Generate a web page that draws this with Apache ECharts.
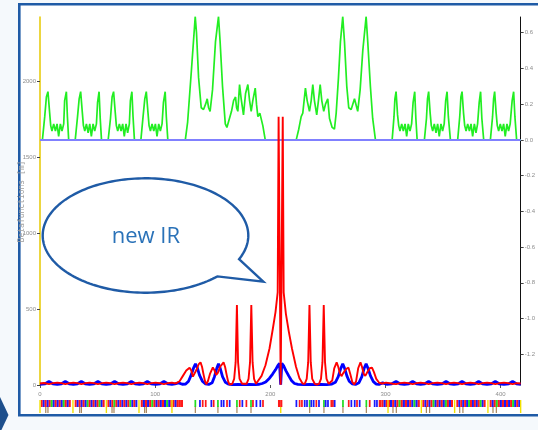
<!DOCTYPE html>
<html>
<head>
<meta charset="utf-8">
<script src="https://cdn.jsdelivr.net/npm/echarts@6/dist/echarts.min.js"></script>
<style>
  html, body { margin: 0; padding: 0; background: #f5f9fc; }
  #chart { width: 538px; height: 430px; }
</style>
</head>
<body>
<div id="chart"></div>
<script>
// Axis ranges and tick labels
const S_MAX = 417.4;
const BETA_MAX = 2421;
const DISP_MIN = -1.372;
const DISP_MAX = 0.688;
const sTicks = [0, 100, 200, 300, 400];
const betaTicks = [0, 500, 1000, 1500, 2000];
const dispTicks = [-1.2, -1.0, -0.8, -0.6, -0.4, -0.2, 0.0, 0.2, 0.4, 0.6];

// Dispersion [s, D] (right axis)
const dispersion = [
  [0, 0], [2.1, 0], [4.1, 0.13], [5.55, 0.24], [6.9, 0.27], [8.4, 0.15], [9.3, 0.08], [10.4, 0.05], [11.9, 0.09], [13.4, 0.05], [14.8, 0.09], [16.2, 0.02], [17.7, 0.09], [19.1, 0.05], [20.6, 0.09], [21.4, 0.22], [22.9, 0.27], [23.8, 0.13], [24.9, 0],
  [30.6, 0], [32.6, 0.13], [34.0, 0.23], [35.3, 0.27], [36.8, 0.15], [37.7, 0.08], [38.9, 0.05], [40.3, 0.09], [41.8, 0.04], [43.2, 0.09], [44.6, 0.02], [46.1, 0.09], [47.5, 0.05], [49.0, 0.09], [50.0, 0.21], [51.3, 0.27], [52.3, 0.12], [53.4, 0],
  [59.2, 0], [61.2, 0.12], [62.6, 0.24], [63.9, 0.27], [65.4, 0.15], [66.3, 0.08], [67.5, 0.05], [68.9, 0.09], [70.4, 0.05], [71.8, 0.09], [73.2, 0.02], [74.7, 0.09], [76.1, 0.04], [77.6, 0.09], [78.5, 0.22], [79.8, 0.27], [80.8, 0.13], [82.0, 0],
  [87.6, 0], [89.5, 0.13], [91.0, 0.23], [92.3, 0.27], [93.8, 0.15], [94.7, 0.08], [95.9, 0.05], [97.3, 0.09], [98.8, 0.05], [100.2, 0.09], [101.6, 0.02], [103.1, 0.09], [104.5, 0.05], [106.0, 0.09], [107.2, 0.21], [108.7, 0.27], [109.7, 0.13], [111.0, 0],
  [126.2, 0], [128.2, 0.1], [131.6, 0.4], [134.8, 0.69], [135.9, 0.6], [137.7, 0.35], [140.0, 0.18], [142.0, 0.17], [143.8, 0.2], [145.2, 0.23], [146.4, 0.18], [147.7, 0.16], [149.8, 0.28], [152.4, 0.55], [155.0, 0.69], [156.4, 0.55], [158.5, 0.3], [160.9, 0.09], [162.3, 0.07], [163.7, 0.08], [166.3, 0.16], [168.1, 0.22], [168.9, 0.21], [169.8, 0.24], [170.7, 0.18], [171.8, 0.16], [173.3, 0.31], [174.7, 0.23], [176.7, 0.14], [178.5, 0.26], [180.5, 0.31], [182.0, 0.22], [183.4, 0.16], [184.8, 0.22], [186.9, 0.29], [188.0, 0.2], [189.2, 0.13], [190.9, 0.15], [192.1, 0.14], [193.5, 0.08], [195.6, 0],
  [222.5, 0], [224.7, 0.06], [226.8, 0.13], [228.2, 0.15], [230.5, 0.29], [232.0, 0.22], [234.0, 0.16], [235.5, 0.22], [236.9, 0.31], [238.3, 0.22], [240.3, 0.14], [241.8, 0.22], [243.3, 0.31], [244.7, 0.22], [246.4, 0.16], [247.9, 0.2], [249.9, 0.23], [251.4, 0.12], [253.7, 0.07], [255.7, 0.06], [257.2, 0.15], [259.2, 0.35], [260.9, 0.55], [262.9, 0.69], [264.4, 0.55], [266.4, 0.3], [268.1, 0.18], [270.2, 0.17], [273.1, 0.23], [275.9, 0.16], [278.0, 0.28], [280.3, 0.5], [283.2, 0.69], [284.6, 0.55], [286.9, 0.3], [288.9, 0.12], [291.3, 0],
  [305.8, 0], [307.4, 0.13], [308.2, 0.23], [309.2, 0.27], [310.5, 0.14], [311.5, 0.08], [312.6, 0.05], [314.1, 0.09], [315.5, 0.05], [317.0, 0.09], [318.4, 0.02], [319.8, 0.09], [321.3, 0.05], [322.7, 0.09], [324.0, 0.21], [325.4, 0.27], [326.4, 0.12], [327.5, 0],
  [333.8, 0], [335.6, 0.12], [336.5, 0.23], [337.5, 0.27], [338.8, 0.15], [339.8, 0.08], [341.0, 0.05], [342.4, 0.09], [343.9, 0.04], [345.3, 0.09], [346.7, 0.02], [348.2, 0.09], [349.6, 0.05], [351.0, 0.09], [352.3, 0.22], [353.5, 0.27], [354.6, 0.13], [356.4, 0],
  [362.7, 0], [364.5, 0.13], [365.5, 0.24], [366.5, 0.27], [367.8, 0.15], [368.8, 0.08], [370.0, 0.05], [371.4, 0.09], [372.9, 0.05], [374.3, 0.09], [375.7, 0.02], [377.2, 0.09], [378.6, 0.04], [380.0, 0.09], [381.4, 0.21], [382.6, 0.27], [383.7, 0.12], [385.3, 0],
  [391.1, 0], [393.0, 0.13], [393.9, 0.23], [394.8, 0.27], [396.1, 0.15], [397.1, 0.08], [398.3, 0.05], [399.7, 0.09], [401.2, 0.05], [402.6, 0.09], [404.0, 0.02], [405.5, 0.09], [406.9, 0.05], [408.3, 0.09], [410.0, 0.22], [411.3, 0.27], [412.4, 0.13], [413.9, 0], [417.4, 0]
];

// Horizontal beta function [s, beta] (left axis)
const betaX = [
  [0, 5], [4.5, 8], [7.8, 24], [11.1, 8], [15.0, 4], [18.7, 8], [22.0, 24], [25.3, 8], [29.0, 4], [32.6, 8], [35.9, 24], [39.2, 8], [43.1, 4], [47.0, 8], [50.3, 24], [53.6, 8], [57.5, 4], [61.5, 8], [64.8, 24], [68.1, 8], [72.1, 4], [76.0, 8], [79.3, 24], [82.6, 8], [86.3, 4], [89.9, 8], [93.2, 24], [96.5, 8], [100.4, 4], [104.3, 8], [107.6, 24], [110.9, 8], [114.5, 4], [117.2, 8], [120.4, 14], [123.5, 5],
  [126.5, 6], [129, 25], [131.5, 70], [133.5, 115], [135, 140], [136.5, 115], [138.5, 65], [141, 25], [143.5, 8], [146.5, 4], [149.5, 15], [151.5, 55], [153.5, 110], [155, 140], [156.5, 110], [158.5, 55], [161, 18], [163.5, 6], [167, 3], [172, 4], [177, 3], [182, 4], [187, 3],
  [190.5, 5], [193, 10], [196, 20], [199.3, 45], [202, 72], [204.5, 100], [206.5, 128], [208, 142], [209, 2], [210, 142], [211.5, 128], [213.5, 95], [216, 60], [218.5, 28], [221, 10], [224, 4],
  [229, 3], [234, 4], [239, 3], [244, 4], [249, 3], [253.5, 6], [256.5, 18], [259, 55], [261, 105], [262.9, 140], [264.5, 110], [266.5, 60], [268.5, 25], [271, 8], [274, 4], [277, 15], [279.5, 55], [281.5, 110], [283.2, 140], [284.8, 110], [287, 60], [289.5, 22], [292, 6],
  [294.3, 4], [297.6, 14], [301, 5], [305.5, 8], [309.2, 24], [312.5, 8], [316.4, 4], [320.3, 8], [323.6, 24], [326.9, 8], [330.5, 4], [334.2, 8], [337.5, 24], [340.8, 8], [345, 4], [349.3, 8], [352.6, 24], [355.9, 8], [359.5, 4], [363.2, 8], [366.5, 24], [369.8, 8], [373.7, 4], [377.6, 8], [380.9, 24], [384.2, 8], [388.2, 4], [392.1, 8], [395.4, 24], [398.7, 8], [402.9, 4], [407.1, 8], [410.4, 24], [413.7, 8], [417.4, 5]
];

// Vertical beta function [s, beta] (left axis)
const betaY = [
  [0, 10], [3.5, 13], [7.8, 6], [11.3, 12], [15, 16], [18.6, 12], [22, 6], [25.5, 12], [29, 16], [32.5, 12], [35.9, 6], [39.5, 12], [43.1, 16], [46.7, 12], [50.3, 6], [54, 12], [57.5, 16], [61.1, 12], [64.8, 6], [68.5, 12], [72.1, 16], [75.7, 12], [79.3, 6], [82.8, 12], [86.3, 16], [89.8, 12], [93.2, 6], [96.8, 12], [100.4, 16], [104, 12], [107.6, 6], [111, 12], [114.5, 16], [116.5, 12],
  [118.4, 12], [121.2, 25], [124.1, 60], [127, 95], [129.9, 114], [131.4, 95], [132.8, 55], [134.2, 60], [135.9, 100], [137.7, 135], [139.4, 149], [140.7, 120], [142, 70], [143.3, 25], [144.4, 5], [145.8, 25], [147.7, 75], [150.1, 116], [151.6, 95], [153, 66], [154.4, 80], [156.4, 120], [159.4, 149], [160.7, 120], [162, 70], [163.3, 25], [164.6, 3],
  [167, 8], [168.6, 40], [169.9, 150], [171, 526], [172, 150], [173.3, 40], [175.5, 8], [177.2, 3], [179.4, 8], [181.1, 40], [182.4, 150], [183.5, 526], [184.6, 150], [185.9, 40], [187.6, 8],
  [188.9, 20], [192.4, 60], [195.8, 130], [199.3, 240], [202.2, 370], [204.5, 480], [206.4, 610], [207.2, 1765], [209, 1], [210.8, 1765], [211.6, 610], [213.5, 470], [216.1, 350], [218.8, 240], [222.3, 120], [225.3, 45], [228, 10],
  [229.9, 8], [231.6, 40], [232.9, 150], [234, 526], [235.1, 150], [236.4, 40], [238.6, 8], [240.5, 3], [242.3, 8], [244, 40], [245.3, 150], [246.4, 526], [247.5, 150], [248.8, 40], [250.7, 8], [252, 3],
  [253.8, 30], [255.5, 110], [257.6, 149], [259, 120], [260.3, 80], [261.8, 58], [263.5, 80], [265.8, 105], [267.9, 114], [269.5, 70], [271.2, 20], [272.8, 4], [274.5, 25], [276.3, 110], [278.3, 149], [279.6, 120], [281, 75], [282.5, 60], [284.3, 85], [286.4, 110], [288.3, 114], [290, 85], [292, 40], [294.5, 15],
  [297, 10], [300.5, 16], [303.5, 12], [306.5, 8], [309.2, 6], [312.7, 12], [316.4, 16], [320, 12], [323.6, 6], [327, 12], [330.5, 16], [334, 12], [337.5, 6], [341.2, 12], [345, 16], [348.8, 12], [352.6, 6], [356, 12], [359.5, 16], [363, 12], [366.5, 6], [370.1, 12], [373.7, 16], [377.3, 12], [380.9, 6], [384.5, 12], [388.2, 16], [391.8, 12], [395.4, 6], [399.1, 12], [402.9, 16], [406.6, 12], [410.4, 6], [413.9, 12], [417.4, 10]
];

// Lattice: dense magnet blocks [s start, s end, magnet colour codes]
const latticeBlocks = [
  [0.6, 26.7, 'RBRBRGBRBRBGRBR'],
  [30.1, 56.1, 'RBRBRBGRBRBRGBR'],
  [58.5, 84.5, 'RBRGRBRBRBRGBRB'],
  [87.4, 124.1, 'RBRBRGRBRBRBGBRRBRRR'],
  [206.5, 210.3, 'RR'],
  [294.5, 329.6, 'RRBRRBRBRGRBRBRBGBR'],
  [331.8, 358.4, 'RBRBRGBRBRBGRBR'],
  [361.3, 386.7, 'RBRBRBGRBRBRGBR'],
  [390.2, 416.8, 'RBRGRBRBRBRGBRB']
];
// Isolated magnets [s, colour code]
const latticeSingles = [
  [134.8, 'G'], [138.8, 'B'], [141.2, 'R'], [143.8, 'R'], [148.7, 'B'], [150.7, 'R'], [154.4, 'G'], [157.4, 'B'], [159.4, 'B'], [162.3, 'R'], [164.6, 'B'],
  [170.9, 'G'], [173.3, 'R'], [175.6, 'B'], [179.1, 'R'], [183.1, 'G'], [184.8, 'R'], [187.8, 'B'], [191.2, 'B'], [193.5, 'R'],
  [222.5, 'B'], [225.3, 'R'], [227.3, 'R'], [229.7, 'B'], [231.7, 'B'], [234.0, 'G'], [235.5, 'B'], [237.5, 'B'], [239.8, 'R'], [242.1, 'B'],
  [246.4, 'G'], [247.9, 'B'], [249.9, 'B'], [252.8, 'R'], [254.2, 'R'], [255.7, 'B'], [262.9, 'G'], [267.9, 'R'], [270.2, 'B'], [273.1, 'B'],
  [275.1, 'R'], [277.4, 'B'], [283.2, 'G'], [286.1, 'R'], [290.4, 'B'], [292.4, 'B'], [294.7, 'R']
];
// Marker positions below the magnet row
const markersYellow = [0, 28.6, 57.6, 85.9, 114.5, 208.9, 302.0, 330.9, 359.8, 388.7, 417.1];
const markersBrown = [5.0, 6.9, 34.4, 35.9, 62.5, 64.2, 90.8, 92.3, 134.8, 154.4, 170.9, 183.1, 234.0, 246.4, 262.9, 283.2, 306.3, 309.2, 335.3, 338.1, 364.2, 367.0, 393.1, 396.0];

const magnetColors = { R: '#ff1a1a', B: '#1a1aff', G: '#22dd22', M: '#9a1aa0' };

// Build the lattice rectangles in drawing order: brown, magnets, yellow
const latticeItems = [];
markersBrown.forEach(s => latticeItems.push({ s0: s, s1: s, top: 7, bottom: 0, color: '#a8865a', minW: 1.2 }));
latticeBlocks.forEach(([a, b, codes]) => {
  const step = (b - a) / codes.length;
  for (let i = 0; i < codes.length; i++) {
    latticeItems.push({ s0: a + i * step, s1: a + (i + 1) * step, top: 13, bottom: 6, color: magnetColors[codes[i]], minW: 1 });
  }
});
latticeSingles.forEach(([s, c]) => latticeItems.push({ s0: s - 0.75, s1: s + 0.75, top: 13, bottom: 6, color: magnetColors[c], minW: 1.5 }));
markersYellow.forEach(s => latticeItems.push({ s0: s, s1: s, top: s > 200 && s < 220 ? 6 : 13, bottom: 0, color: '#f2e200', minW: 1.4 }));

// Speech bubble outline: ellipse arc plus a pointed tail
const bubble = { cx: 145.5, cy: 235.5, rx: 102.8, ry: 57.2 };
const bubbleTail = [263.3, 281.7];
const bubblePoints = [];
{
  const a0 = 24.5 * Math.PI / 180;
  const a1 = (45.6 - 360) * Math.PI / 180;
  const n = 180;
  for (let i = 0; i <= n; i++) {
    const a = a0 + (a1 - a0) * i / n;
    bubblePoints.push([bubble.cx + bubble.rx * Math.cos(a), bubble.cy + bubble.ry * Math.sin(a)]);
  }
  bubblePoints.push(bubbleTail);
}

const tickFont = { fontFamily: 'Liberation Sans', fontSize: 6, color: '#8d8d8d' };

const chart = echarts.init(document.getElementById('chart'), null, { renderer: 'canvas' });
chart.setOption({
  backgroundColor: '#f5f9fc',
  animation: false,
  grid: [
    { left: 40, right: 17, top: 17, bottom: 45 },
    { left: 40, right: 17, top: 400, height: 13 }
  ],
  xAxis: [
    {
      type: 'value', gridIndex: 0, min: 0, max: S_MAX,
      axisLine: { show: false },
      axisTick: { show: true, length: 3, customValues: sTicks, lineStyle: { color: '#555', width: 1 } },
      axisLabel: Object.assign({ margin: 6, customValues: sTicks, formatter: v => String(v) }, tickFont),
      splitLine: { show: false }
    },
    { type: 'value', gridIndex: 1, min: 0, max: S_MAX, show: false }
  ],
  yAxis: [
    {
      type: 'value', gridIndex: 0, min: 0, max: BETA_MAX, position: 'left',
      axisLine: { show: true, lineStyle: { color: '#e6c800', width: 1.5 } },
      axisTick: { show: true, length: 3, customValues: betaTicks, lineStyle: { color: '#444' } },
      axisLabel: Object.assign({ margin: 4, customValues: betaTicks, formatter: v => String(v) }, tickFont),
      splitLine: { show: false }
    },
    {
      type: 'value', gridIndex: 0, min: DISP_MIN, max: DISP_MAX, position: 'right',
      axisLine: { show: true, lineStyle: { color: '#111', width: 1 } },
      axisTick: { show: true, length: 3, customValues: dispTicks, lineStyle: { color: '#444' } },
      axisLabel: Object.assign({ margin: 4, customValues: dispTicks, formatter: v => v.toFixed(1) }, tickFont),
      splitLine: { show: false }
    },
    { type: 'value', gridIndex: 1, min: 0, max: 13, show: false }
  ],
  series: [
    {
      name: 'Dx', type: 'line', xAxisIndex: 0, yAxisIndex: 1, data: dispersion,
      showSymbol: false, lineStyle: { color: '#22ee22', width: 1.7 }, z: 2
    },
    {
      name: 'D0', type: 'line', xAxisIndex: 0, yAxisIndex: 1, data: [[0, 0], [S_MAX, 0]],
      showSymbol: false, lineStyle: { color: '#8080ff', width: 2 }, z: 3
    },
    {
      name: 'betx', type: 'line', xAxisIndex: 0, yAxisIndex: 0, data: betaX,
      showSymbol: false, lineStyle: { color: '#0000ff', width: 2.8 }, z: 4
    },
    {
      name: 'bety', type: 'line', xAxisIndex: 0, yAxisIndex: 0, data: betaY,
      showSymbol: false, lineStyle: { color: '#ff0000', width: 1.9 }, z: 5
    },
    {
      name: 'lattice', type: 'custom', xAxisIndex: 1, yAxisIndex: 2,
      data: latticeItems.map(it => [it.s0, it.s1]),
      encode: { x: [0, 1] },
      renderItem: (params, api) => {
        const it = latticeItems[params.dataIndex];
        const p0 = api.coord([it.s0, it.top]);
        const p1 = api.coord([it.s1, it.bottom]);
        const w = Math.max(p1[0] - p0[0], it.minW);
        const cx = (p0[0] + p1[0]) / 2;
        return {
          type: 'rect',
          shape: { x: cx - w / 2, y: p0[1], width: w, height: p1[1] - p0[1] },
          style: { fill: it.color }
        };
      },
      z: 3
    }
  ],
  graphic: [
    {
      type: 'rect', z: -10, silent: true,
      shape: { x: 19.3, y: 4.2, width: 540, height: 411 },
      style: { fill: '#ffffff', stroke: '#1f5ba6', lineWidth: 2.6 }
    },
    {
      type: 'polygon', z: 10, silent: true,
      shape: { points: [[0, 397], [8.5, 415], [0, 433]] },
      style: { fill: '#1d4f8c' }
    },
    {
      type: 'text', z: 5, silent: true, x: 21.5, y: 201.5, rotation: Math.PI / 2,
      style: { text: 'Betafunctions [m]', fontFamily: 'DejaVu Sans Mono', fontSize: 8, fill: '#a0a0a0', align: 'center', verticalAlign: 'middle' }
    },
    {
      type: 'polygon', z: 20, silent: true,
      shape: { points: bubblePoints },
      style: { fill: '#ffffff', stroke: '#1f5ba6', lineWidth: 2.4, lineJoin: 'miter' }
    },
    {
      type: 'text', z: 21, silent: true, x: 145.8, y: 236.5,
      style: { text: 'new IR', fontFamily: 'Open Sans', fontSize: 22, fill: '#2a72b8', align: 'center', verticalAlign: 'middle' }
    }
  ]
});
</script>
</body>
</html>
